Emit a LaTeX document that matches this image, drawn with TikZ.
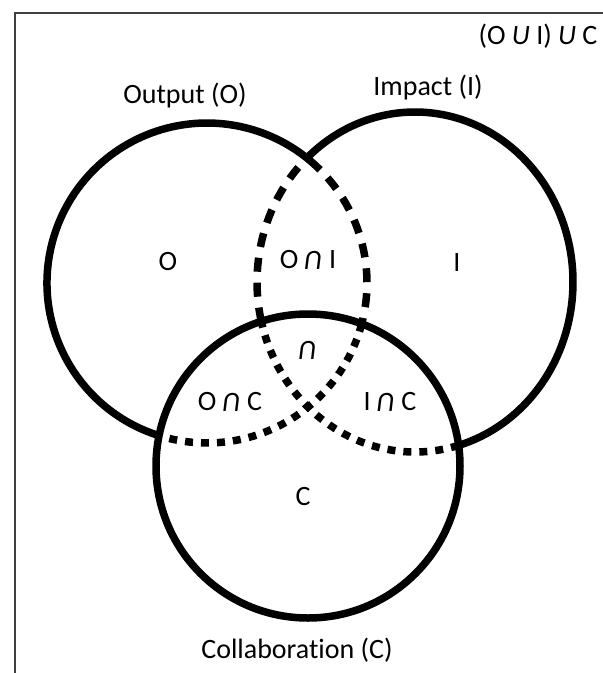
\documentclass[tikz,border=0pt]{standalone}
\usepackage{fontspec}
\setmainfont{Carlito}[Ligatures={NoCommon}]
\usepackage{graphicx}
\newcommand{\capU}{\rotatebox[origin=c]{180}{\itshape U}}
\begin{document}
\begin{tikzpicture}[x=1pt,y=-1pt,
  lbl/.style={font=\fontsize{28}{30}\selectfont, inner sep=0pt, text=black},
  solidarc/.style={line width=7.5pt},
  longdash/.style={line width=7.5pt, dash pattern=on 14pt off 11pt},
  shortdash/.style={line width=7.5pt, dash pattern=on 8pt off 8pt},
  frame/.style={line width=1.5pt, draw=black!75}]
\useasboundingbox (0,0) rectangle (603,673);
% frame
\coordinate (fb) at (15,673);
\coordinate (fc) at (15,13);
\coordinate (fr) at (603,13);
\draw[frame] (fb) -- (fc) -- (fr);
% centres
\coordinate (Oc) at (207,283);
\coordinate (Ic) at (415,282);
\coordinate (Cc) at (308,466);
% Output circle
\draw[solidarc] ([shift={(Oc)}]107.4:160) arc[start angle=107.4, end angle=309.94, radius=160];
\draw[longdash] ([shift={(Oc)}]-50.06:160) arc[start angle=-50.06, end angle=14.8, radius=160];
\draw[shortdash] ([shift={(Oc)}]14.8:160) arc[start angle=14.8, end angle=107.4, radius=160];
% Impact circle
\draw[solidarc] ([shift={(Ic)}]227.2:158 and 170) arc[start angle=227.2, end angle=433.95, x radius=158, y radius=170];
\draw[shortdash] ([shift={(Ic)}]73.95:158 and 170) arc[start angle=73.95, end angle=166.6, x radius=158, y radius=170];
\draw[longdash] ([shift={(Ic)}]166.6:158 and 170) arc[start angle=166.6, end angle=227.2, x radius=158, y radius=170];
% Collaboration circle
\draw[solidarc] (Cc) circle[radius=152];
% labels
\node[lbl] (union) at (538,36) {(O \textit{U} I) \textit{U} C};
\node[lbl] (outl) at (185,96) {Output (O)};
\node[lbl] (impl) at (428,88) {Impact (I)};
\node[lbl] (collab) at (297,650) {Collaboration (C)};
\node[lbl] (o) at (168,262) {O};
\node[lbl] (oi) at (308,260) {O \capU{} I};
\node[lbl] (i) at (457,263) {I};
\node[lbl] (all) at (308,350) {\capU};
\node[lbl] (oc) at (230,402) {O \capU{} C};
\node[lbl] (ic) at (390,402) {I \capU{} C};
\node[lbl] (c) at (303,497) {C};
\end{tikzpicture}
\end{document}
